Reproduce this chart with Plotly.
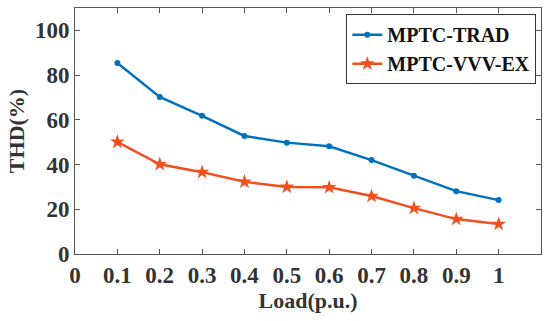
import plotly.graph_objects as go

load = [0.1, 0.2, 0.3, 0.4, 0.5, 0.6, 0.7, 0.8, 0.9, 1.0]
thd_trad = [85.4, 70.2, 61.8, 52.8, 49.8, 48.2, 42.0, 35.0, 28.1, 24.1]
thd_vvv_ex = [50.1, 40.1, 36.6, 32.3, 30.0, 29.8, 25.9, 20.5, 15.6, 13.4]
x_ticks = [0, 0.1, 0.2, 0.3, 0.4, 0.5, 0.6, 0.7, 0.8, 0.9, 1.0]
x_tick_text = ["0", "0.1", "0.2", "0.3", "0.4", "0.5", "0.6", "0.7", "0.8", "0.9", "1"]
y_ticks = [0, 20, 40, 60, 80, 100]

font_family = "Liberation Serif, Times New Roman, serif"

fig = go.Figure()
fig.add_trace(go.Scatter(
    x=load, y=thd_trad, mode="lines+markers", name="MPTC-TRAD",
    line=dict(color="#0072BD", width=2.5),
    marker=dict(symbol="circle", size=6, color="#0072BD"),
))
fig.add_trace(go.Scatter(
    x=load, y=thd_vvv_ex, mode="lines+markers", name="MPTC-VVV-EX",
    line=dict(color="#F0501E", width=2.5),
    marker=dict(symbol="star", size=11, color="#F0501E"),
))

axis_common = dict(
    showline=True, linecolor="#555555", linewidth=1, mirror="ticks",
    ticks="inside", ticklen=5, tickcolor="#555555",
    showgrid=False, zeroline=False, automargin=False,
    tickfont=dict(family=font_family, size=23, color="#333333", weight="bold"),
)

fig.update_xaxes(range=[0, 1.1], tickvals=x_ticks, ticktext=x_tick_text,
                 title=dict(text="<b>Load(p.u.)</b>", font=dict(family=font_family, size=22, color="#333333"), standoff=4),
                 **axis_common)
fig.update_yaxes(range=[0, 110], tickvals=y_ticks,
                 title=dict(text="<b>THD(%)</b>", font=dict(family=font_family, size=22, color="#333333"), standoff=4),
                 **axis_common)

fig.update_layout(
    width=550, height=321,
    margin=dict(l=75, r=9, t=8, b=67),
    plot_bgcolor="white", paper_bgcolor="white",
    font=dict(family=font_family, size=20, color="#333333", weight="bold"),
    showlegend=True,
    legend=dict(
        x=0.99, y=0.975, xanchor="right", yanchor="top",
        bgcolor="white", bordercolor="#333333", borderwidth=1,
        font=dict(family=font_family, size=20, color="#111111", weight="bold"),
        itemwidth=30, tracegroupgap=0,
    ),
)

fig.write_html("out.html", config={"displayModeBar": False},
               post_script="document.body.style.margin='0';")
